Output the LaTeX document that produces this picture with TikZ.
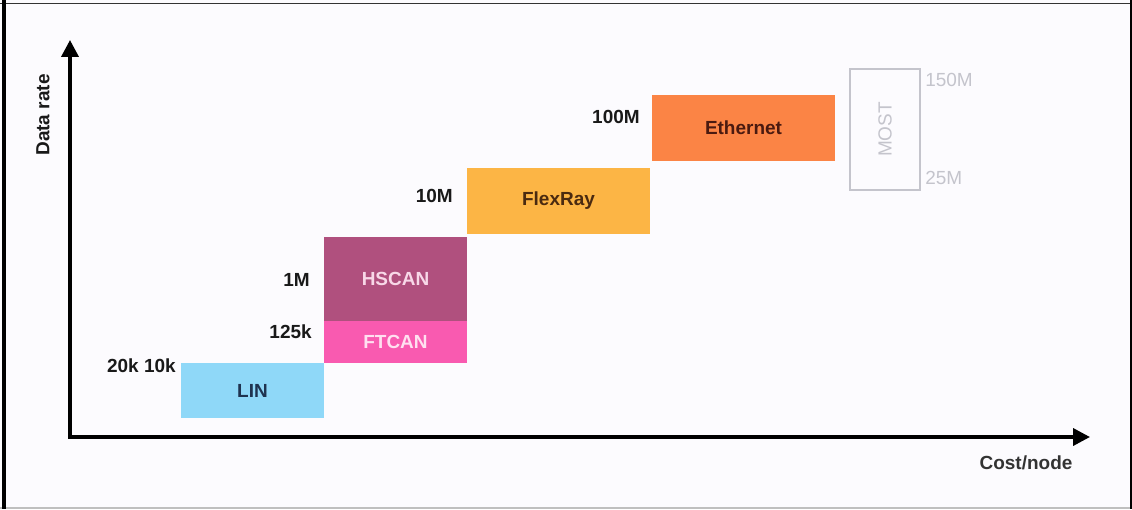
\documentclass[tikz,border=0pt]{standalone}
\usepackage{fontspec}
\setmainfont{Liberation Sans}
\usetikzlibrary{arrows.meta}
\usepackage{xcolor}

\definecolor{paper}{RGB}{252,251,254}
\definecolor{linblue}{RGB}{143,216,248}
\definecolor{ftpink}{RGB}{249,90,176}
\definecolor{hsplum}{RGB}{176,80,126}
\definecolor{flexorange}{RGB}{252,181,69}
\definecolor{ethorange}{RGB}{251,132,69}
\definecolor{mostgray}{RGB}{196,196,204}

\newcommand{\lblfont}{\fontsize{13.5}{16}\selectfont}

\begin{document}
\begin{tikzpicture}[x=0.025cm, y=-0.025cm,
  bus/.style={inner sep=0pt, outer sep=0pt, font=\lblfont\bfseries},
  rate/.style={inner sep=0pt, font=\lblfont\bfseries, text=black!90},
  axis/.style={line width=2.6pt, {Triangle[length=12pt, width=12pt]}-{Triangle[length=12pt, width=12pt]}}]

  % Frame
  \useasboundingbox (0,0) rectangle (1132,509);
  \fill[paper] (0,0) rectangle (1132,509);
  \draw[black!80, line width=1pt] (0,3.5) -- (1132,3.5);
  \draw[black!25, line width=1.4pt] (0,508) -- (1132,508);
  \draw[black, line width=2.2pt] (4,0) -- (4,509);
  \draw[black, line width=1.6pt] (1131,0) -- (1131,509);

  % Axes
  \coordinate (origin) at (70,437);
  \coordinate (ytip) at (70,40);
  \coordinate (xtip) at (1090,437);
  \draw[axis] (ytip) -- (origin) -- (xtip);
  \node[rate, rotate=90] (ylabel) at (43,115) {Data rate};
  \node[rate, text=black!80] (xlabel) at (1026,463) {Cost/node};

  % ---- Buses ----
  \node[bus, fill=linblue, text={rgb,255:red,31;green,51;blue,80},
    minimum width=3.575cm, minimum height=1.375cm] (lin) at (252.5,390.5) {LIN};
  \node[bus, fill=ftpink, text={rgb,255:red,255;green,224;blue,240},
    minimum width=3.575cm, minimum height=1.05cm] (ftcan) at (395.5,342) {FTCAN};
  \node[bus, fill=hsplum, text={rgb,255:red,248;green,216;blue,232},
    minimum width=3.575cm, minimum height=2.1cm] (hscan) at (395.5,279) {HSCAN};
  \node[bus, fill=flexorange, text={rgb,255:red,74;green,42;blue,16},
    minimum width=4.575cm, minimum height=1.65cm] (flexray) at (558.5,201) {FlexRay};
  \node[bus, fill=ethorange, text={rgb,255:red,74;green,26;blue,16},
    minimum width=4.575cm, minimum height=1.65cm] (ethernet) at (743.5,128) {Ethernet};
  \node[bus, draw=mostgray, line width=0.8pt, text=mostgray, font=\lblfont,
    minimum width=1.75cm, minimum height=3.025cm] (most) at (885,129.5) {};
  \node[inner sep=0pt, rotate=90, text=mostgray, font=\lblfont] (mosttext) at (most.center) {MOST};

  % ---- Rates ----
  \node[rate, anchor=east] (r100m) at (640,117) {100M};
  \node[rate, anchor=east] (r10m) at (453,196) {10M};
  \node[rate, anchor=east] (r1m) at (310,280) {1M};
  \node[rate, anchor=east] (r125k) at (312,332) {125k};
  \node[rate, anchor=east] (r20k) at (176,366) {20k 10k};
  \node[inner sep=0pt, anchor=west, text=mostgray, font=\lblfont] (r150m) at (925,80) {150M};
  \node[inner sep=0pt, anchor=west, text=mostgray, font=\lblfont] (r25m) at (925,178) {25M};

\end{tikzpicture}
\end{document}
